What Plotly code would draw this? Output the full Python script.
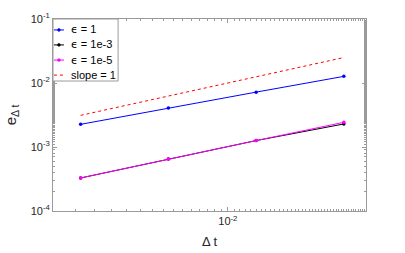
import plotly.graph_objects as go

dt = [0.003125, 0.00625, 0.0125, 0.025]
err_eps1 = [0.00226, 0.00407, 0.0072, 0.0127]
err_eps1e3 = [0.000328, 0.00065, 0.00126, 0.00229]
err_eps1e5 = [0.000328, 0.00065, 0.00126, 0.00243]
slope_ref = [0.003125, 0.00625, 0.0125, 0.025]

names = ["ϵ = 1", "ϵ = 1e-3", "ϵ = 1e-5", "slope = 1"]
colors = ["#0000ff", "#000000", "#ff00ff", "#ff0000"]

ytickvals = [1e-4, 1e-3, 1e-2, 1e-1]
yticktext = ["10<sup>-4</sup>", "10<sup>-3</sup>", "10<sup>-2</sup>", "10<sup>-1</sup>"]
xtickvals = [1e-2]
xticktext = ["10<sup>-2</sup>"]

FONT = "Liberation Sans, Arial, sans-serif"
AX = "#9a9a9a"
TXT = "#262626"

fig = go.Figure()
series = [err_eps1, err_eps1e3, err_eps1e5]
for ys, nm, c in zip(series, names[:3], colors[:3]):
    fig.add_trace(go.Scatter(x=dt, y=ys, mode="lines+markers", name=nm,
                             line=dict(color=c, width=1),
                             marker=dict(color=c, size=3.5)))
fig.add_trace(go.Scatter(x=dt, y=slope_ref, mode="lines", name=names[3],
                         line=dict(color=colors[3], width=1, dash="dot")))

axis_common = dict(type="log", showgrid=False, zeroline=False, showline=True,
                   linecolor=AX, linewidth=1, mirror="ticks", ticks="inside",
                   tickcolor=AX, ticklen=4, tickwidth=1, automargin=False,
                   tickfont=dict(family=FONT, size=11, color=TXT),
                   minor=dict(ticks="inside", ticklen=2, tickcolor=AX, showgrid=False))

fig.update_xaxes(**axis_common, range=[-2.6, -1.526], tickmode="array",
                 tickvals=xtickvals, ticktext=xticktext,
                 title=dict(text="Δ t", font=dict(family=FONT, size=13, color=TXT), standoff=10))
fig.update_yaxes(**axis_common, range=[-4, -1], tickmode="array",
                 tickvals=ytickvals, ticktext=yticktext,
                 title=dict(text="e<sub>Δ t</sub>", font=dict(family=FONT, size=15, color=TXT), standoff=10))

# manual legend (MATLAB style, short samples)
shapes = [dict(type="rect", xref="paper", yref="paper", x0=0, x1=0.208, y0=0.677, y1=1,
               line=dict(color=AX, width=1), fillcolor="white", layer="above")]
annotations = []
rows = [0.943, 0.865, 0.786, 0.708]
dashes = ["solid", "solid", "solid", "dot"]
for i, (nm, c, yy) in enumerate(zip(names, colors, rows)):
    shapes.append(dict(type="line", xref="paper", yref="paper", x0=0.003, x1=0.035, y0=yy, y1=yy,
                       line=dict(color=c, width=1, dash=dashes[i]), layer="above"))
    if i < 3:
        shapes.append(dict(type="circle", xref="paper", yref="paper",
                           x0=0.019 - 0.0045, x1=0.019 + 0.0045, y0=yy - 0.0075, y1=yy + 0.0075,
                           line=dict(color=c, width=0.5), fillcolor=c, layer="above"))
    label = nm.replace("ϵ", '<span style="font-family:DejaVu Sans">ϵ</span>')
    annotations.append(dict(xref="paper", yref="paper", x=0.05, y=yy, text=label, showarrow=False,
                            xanchor="left", yanchor="middle",
                            font=dict(family=FONT, size=11, color="#000000")))

fig.update_layout(width=405, height=253, margin=dict(l=53, r=39, t=19, b=42),
                  paper_bgcolor="white", plot_bgcolor="white", showlegend=False,
                  shapes=shapes, annotations=annotations,
                  font=dict(family=FONT, color=TXT))
fig.write_html("out.html", config={"displayModeBar": False},
               post_script="document.body.style.margin='0';document.body.style.overflow='hidden';")
